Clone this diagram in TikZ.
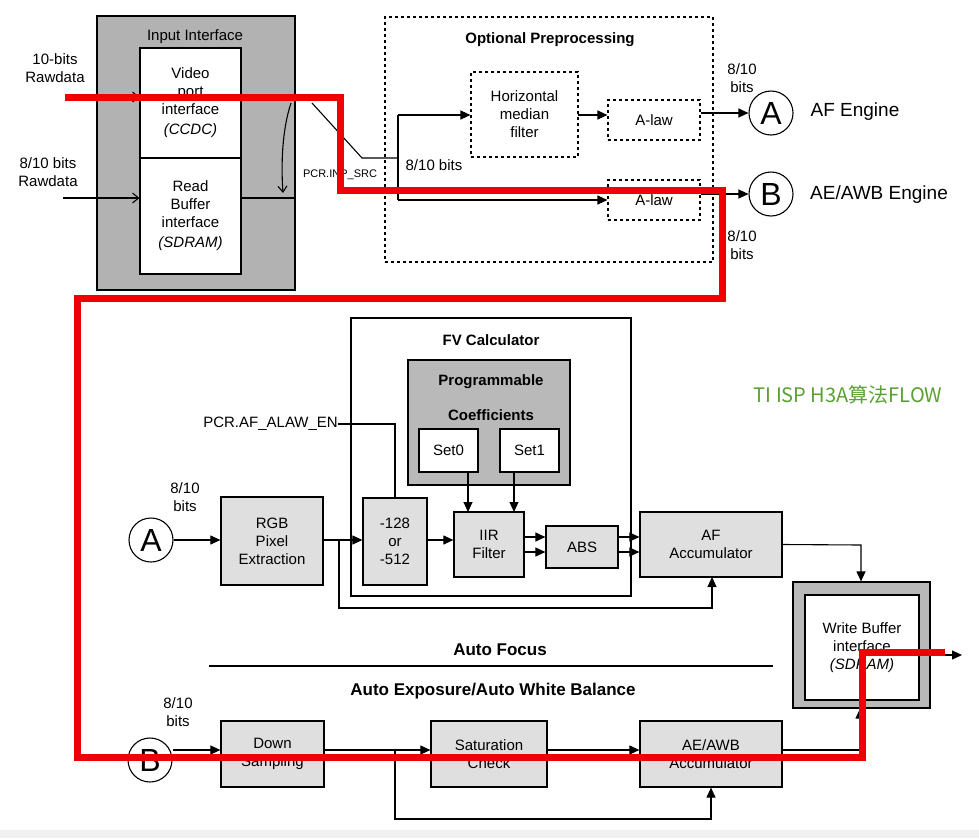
\documentclass[tikz,border=0pt]{standalone}
\usepackage{fontspec}
\setmainfont{Liberation Sans}
\newfontfamily\cjk{Noto Sans CJK SC}
\usetikzlibrary{arrows.meta}
\begin{document}
\begin{tikzpicture}[x=1pt,y=-1pt,
  every node/.style={font=\fontsize{15}{18}\selectfont, inner sep=0pt, align=center},
  box/.style={draw, line width=1.2pt, fill=gray!25},
  wbox/.style={draw, line width=1.2pt, fill=white},
  dbox/.style={draw, dashed, line width=1.1pt},
  circ/.style={draw, circle, line width=1.1pt, minimum size=44pt, font=\fontsize{32}{32}\selectfont},
  ln/.style={line width=1.1pt},
  arr/.style={ln, -{Triangle[length=10pt,width=9pt]}},
  oarr/.style={ln, -{Straight Barb[length=6pt,width=10pt]}},
  red/.style={line width=7pt, draw={rgb,255:red,240;green,0;blue,0}},
  ttl/.style={font=\bfseries\fontsize{15}{17}\selectfont}]
\useasboundingbox (0,0) rectangle (979,838);
\fill[gray!12] (0,830) rectangle (979,838);
% Input interface
\node[draw, line width=1.2pt, fill=gray!60, minimum width=198pt, minimum height=274pt] (inp) at (196,153) {};
\node (inpt) at (195,37) {Input Interface};
\node[wbox, minimum width=101pt, minimum height=110pt] (vid) at (190.5,103) {Video\\port\\interface\\[2pt]\textit{(CCDC)}};
\node[wbox, minimum width=101pt, minimum height=116pt] (rd) at (190.5,216) {Read\\Buffer\\interface\\[2pt]\textit{(SDRAM)}};
\node (raw1) at (55,68) {10-bits\\Rawdata};
\node (raw2) at (48,172) {8/10 bits\\Rawdata};
\coordinate (r1s) at (65,97); \coordinate (r2s) at (63,198);
\draw[oarr] (r1s) -- (vid.west |- r1s);
\draw[oarr] (r2s) -- (rd.west |- r2s);
\coordinate (rdo) at (295,198);
\draw[ln] (rd.east |- rdo) -- (rdo);
\coordinate (cvs) at (291,103); \coordinate (cve) at (283,193);
\draw[ln, -{Straight Barb[length=6pt,width=9pt]}] (cvs) .. controls (282,130) and (281,165) .. (cve);
% switch
\coordinate (sw1) at (312,103); \coordinate (sw2) at (362,158); \coordinate (sw3) at (398,158);
\draw[ln] (sw1) -- (sw2) -- (sw3);
\node[font=\fontsize{11}{13}\selectfont] (inpsrc) at (340,175) {PCR.INP\_SRC};
% optional preprocessing
\node[dbox, minimum width=328pt, minimum height=245pt] (opt) at (549,139.5) {};
\node[ttl] (optt) at (550,40) {Optional Preprocessing};
\node[dbox, minimum width=107pt, minimum height=85pt] (hm) at (524.5,114.5) {Horizontal\\median\\filter};
\node[dbox, minimum width=92pt, minimum height=40pt] (al1) at (654,120) {A-law};
\node[dbox, minimum width=92pt, minimum height=40pt] (al2) at (654,200) {A-law};
\node (b810) at (434,165) {8/10 bits};
\coordinate (vt) at (398,115); \coordinate (vb) at (398,200);
\draw[ln] (vt) -- (vb);
\draw[arr] (vt) -- (hm.west |- vt);
\draw[arr] (vb) -- (al2.west |- vb);
\coordinate (h1) at (578,115);
\draw[arr] (h1) -- (al1.west |- h1);
\node[circ] (A1) at (771,113) {A};
\node[circ] (B1) at (771,194) {B};
\draw[arr] (al1.east |- A1) -- (A1);
\draw[arr] (al2.east |- B1) -- (B1);
\node (afe) at (855,112) {\fontsize{19}{22}\selectfont AF Engine};
\node[anchor=west] (awbe) at (810,195) {\fontsize{19}{22}\selectfont AE/AWB Engine};
\node (bt1) at (742,78) {8/10\\bits};
\node (bt2) at (742,245) {8/10\\bits};
% FV calculator
\node[draw, line width=1.8pt, minimum width=280pt, minimum height=278pt] (fv) at (491,457) {};
\node[ttl] (fvt) at (491,340) {FV Calculator};
\node[draw, line width=1.5pt, fill=gray!55, minimum width=162pt, minimum height=125pt] (pc) at (489,422.5) {};
\node[ttl] (pct) at (491,382) {Programmable};
\node[ttl] (pct2) at (491,415) {Coefficients};
\node[wbox, minimum width=59pt, minimum height=43pt] (s0) at (448.5,450.5) {Set0};
\node[wbox, minimum width=59pt, minimum height=43pt] (s1) at (529.5,450.5) {Set1};
\node[box, minimum width=64pt, minimum height=87pt] (m128) at (395,541.5) {-128\\or\\-512};
\node[box, minimum width=102pt, minimum height=88pt] (rgb) at (272,541) {RGB\\Pixel\\Extraction};
\node[circ] (A2) at (151,540) {A};
\node (bt3) at (185,497) {8/10\\bits};
\node[box, minimum width=70pt, minimum height=65pt] (iir) at (489,544.5) {IIR\\Filter};
\node[box, minimum width=72pt, minimum height=42pt] (abs) at (582,547) {ABS};
\node[box, minimum width=142pt, minimum height=65pt] (afa) at (711,544.5) {AF\\Accumulator};
\node[anchor=east] (alaw) at (338,424) {PCR.AF\_ALAW\_EN};
\draw[ln] (alaw.east) -- (395,424) -- (m128.north);
\draw[arr] (A2) -- (rgb.west |- A2);
\draw[arr] (rgb.east |- A2) -- (m128.west |- A2);
\draw[arr] (m128.east |- A2) -- (iir.west |- A2);
\draw[arr] (468,472) -- (468,512);
\draw[arr] (514,472) -- (514,512);
\draw[arr] (iir.east |- 0,537) -- (abs.west |- 0,537);
\draw[arr] (iir.east |- 0,552) -- (abs.west |- 0,552);
\draw[arr] (abs.east |- 0,537) -- (afa.west |- 0,537);
\draw[arr] (abs.east |- 0,552) -- (afa.west |- 0,552);
\draw[arr] (339,540) -- (339,608) -- (712,608) -- (712,577);
% write buffer
\node[draw, line width=1.2pt, fill=gray!55, minimum width=137pt, minimum height=126pt] (wbo) at (861.5,645) {};
\node[wbox, minimum width=114pt, minimum height=105pt] (wb) at (862,647.5) {Write Buffer\\interface\\\textit{(SDRAM)}};
\draw[arr] (afa.east) -- (861,545) -- (wbo.north -| 861,0);
\draw[arr] (wbo.east |- 0,655) -- (962,655);
% AF / AE titles
\node (aft) at (500,650) {\bfseries\fontsize{17}{19}\selectfont Auto Focus};
\draw[line width=2pt] (209,666) -- (773,666);
\node (aet) at (493,691) {\bfseries\fontsize{17}{19}\selectfont Auto Exposure/Auto White Balance};
% AE/AWB chain
\node[circ] (B2) at (150,760) {B};
\node (bt4) at (178,712) {8/10\\bits};
\node[box, minimum width=103pt, minimum height=66pt] (ds) at (272.5,754) {Down\\Sampling};
\node[box, minimum width=116pt, minimum height=66pt] (sc) at (489,754) {Saturation\\Check};
\node[box, minimum width=142pt, minimum height=66pt] (aea) at (711,754) {AE/AWB\\Accumulator};
\draw[arr] (B2.east |- 0,750) -- (ds.west |- 0,750);
\draw[arr] (ds.east |- 0,750) -- (sc.west |- 0,750);
\draw[arr] (sc.east |- 0,750) -- (aea.west |- 0,750);
\draw[arr] (395,750) -- (395,819) -- (711,819) -- (aea.south);
\draw[arr] (aea.east |- 0,750) -- (860,750) -- (wbo.south -| 860,0);
% red path
\coordinate (p0) at (65,97);
\draw[red, line join=miter] (p0) -- (340,97) -- (340,190) -- (722,190) -- (722,298) -- (77,298) -- (77,757) -- (862,757) -- (862,652) -- (945,652);
% label
\node[text={rgb,255:red,90;green,160;blue,50}] (lbl) at (848,395) {\cjk\fontsize{20}{22}\selectfont TI ISP H3A算法FLOW};
\end{tikzpicture}
\end{document}
